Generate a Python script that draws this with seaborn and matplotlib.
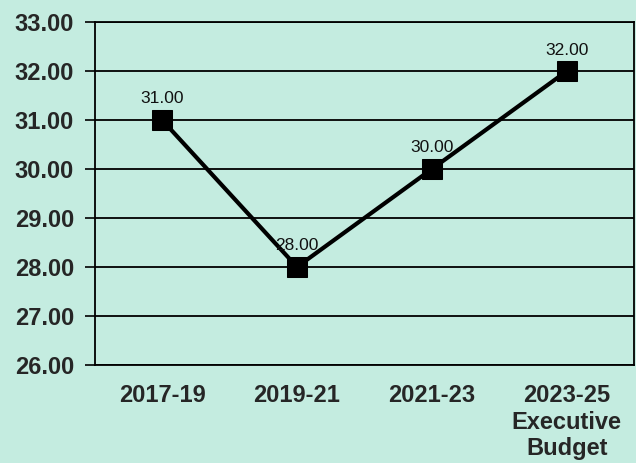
import pandas as pd
import seaborn as sns
import matplotlib.pyplot as plt

periods = ["2017-19", "2019-21", "2021-23", "2023-25\nExecutive\nBudget"]
values = [31.00, 28.00, 30.00, 32.00]

bg = "#c4ece0"
sns.set_style("white")
plt.rcParams['font.family'] = ['Liberation Sans', 'DejaVu Sans']

df = pd.DataFrame({"period": periods, "value": values})
df["pos"] = range(len(df))

fig = plt.figure(figsize=(6.36, 4.63), dpi=100, facecolor=bg)
ax = fig.add_axes([0.149, 0.212, 0.848, 0.74])
ax.set_facecolor(bg)

sns.lineplot(data=df, x="pos", y="value", ax=ax, color="black", linewidth=3,
             marker="s", markersize=14, markeredgecolor="black", markerfacecolor="black")

for _, row in df.iterrows():
    ax.annotate(f"{row['value']:.2f}", (row["pos"], row["value"]),
                textcoords="offset points", xytext=(0, 12), ha="center",
                fontsize=12.5, color="#111111")

ax.set_xlim(-0.5, 3.5)
ax.set_ylim(26, 33)
ax.set_yticks(range(26, 34))
ax.set_yticklabels([f"{v:.2f}" for v in range(26, 34)], fontsize=17, fontweight="bold")
ax.set_xticks(df["pos"])
ax.set_xticklabels(periods, fontsize=17, fontweight="bold", linespacing=1.2)
ax.set_xticks([0.5, 1.5, 2.5], minor=True)
ax.tick_params(axis="x", which="major", length=0, pad=14)
ax.tick_params(axis="x", which="minor", length=6, width=1.2, color="black", direction="out")
ax.tick_params(axis="y", length=7, width=1.2, color="black", direction="out", pad=8, left=True)
ax.grid(axis="y", color="black", linewidth=1.3)
for s in ax.spines.values():
    s.set_color("black")
    s.set_linewidth(1.3)
ax.set_xlabel("")
ax.set_ylabel("")

fig.savefig("out.png", dpi=100, facecolor=bg)
